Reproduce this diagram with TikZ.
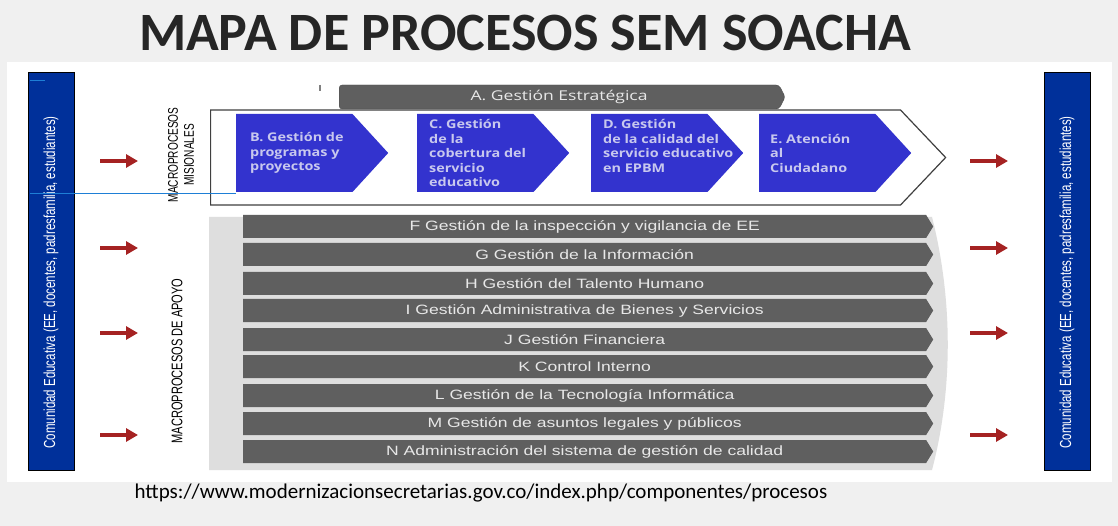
\documentclass[tikz,border=0pt]{standalone}
\usepackage{fontspec}
\setmainfont{Liberation Sans}
\newfontfamily\titlefont{Carlito}
\newfontfamily\boxfont[FakeStretch=1.3]{Open Sans}
\newfontfamily\procfont[FakeStretch=1.2]{Open Sans}
\newfontfamily\barfont[FakeStretch=1.3]{Liberation Sans}
\newfontfamily\narrowfont[FakeStretch=0.72]{Liberation Sans}
\usetikzlibrary{shapes.symbols,arrows.meta,positioning}

\definecolor{bgpage}{HTML}{F0F0F0}
\definecolor{titlegray}{HTML}{262626}
\definecolor{barblue}{HTML}{00309A}
\definecolor{procblue}{HTML}{3333CE}
\definecolor{proctext}{HTML}{C8C8EE}
\definecolor{bargray}{HTML}{5F5F5F}
\definecolor{bartext}{HTML}{E8E8E8}
\definecolor{panelgray}{HTML}{DEDEDE}
\definecolor{arrowred}{HTML}{A52222}
\definecolor{lineblue}{HTML}{1E7FD6}

\tikzset{
  comunidad/.style={draw=black, line width=1pt, fill=barblue, minimum width=46pt, minimum height=397pt, inner sep=0pt},
  sidetext/.style={rotate=90, text=white, font=\narrowfont\fontsize{16}{18}\selectfont},
  macrolabel/.style={rotate=90, align=center, font=\narrowfont\fontsize{14}{16}\selectfont},
  flecha/.style={arrowred, line width=4.5pt, -{Triangle[length=12pt,width=13pt]}},
  misional/.style={signal, signal to=east, signal pointer angle=95, fill=procblue,
    minimum height=78pt, minimum width=152pt, inner sep=0pt, anchor=west},
  proctxt/.style={text=proctext, align=left, inner sep=0pt, font=\procfont\bfseries\fontsize{12}{14.5}\selectfont},
  apoyo/.style={signal, signal to=east, signal pointer angle=117, fill=bargray, text=bartext,
    minimum height=23pt, minimum width=690pt, inner sep=0pt, anchor=west,
    font=\barfont\fontsize{13.5}{15}\selectfont},
}

\begin{document}
\begin{tikzpicture}[x=1pt,y=-1pt]

  % page and white panel
  \useasboundingbox (0,0) rectangle (1118,526);
  \fill[bgpage] (0,0) rectangle (1118,526);
  \fill[white] (7,62) rectangle (1112,482);

  \node[text=titlegray, font=\titlefont\bfseries\fontsize{54}{60}\selectfont] (titulo) at (525,33) {MAPA DE PROCESOS SEM SOACHA};
  \node[font=\titlefont\fontsize{21}{24}\selectfont] (fuente) at (481,493) {https://www.modernizacionsecretarias.gov.co/index.php/componentes/procesos};

  % comunidad educativa, both sides
  \node[comunidad] (entrada) at (51,271.5) {};
  \node[sidetext] at (51,282.5) {Comunidad Educativa (EE, docentes, padresfamilia, estudiantes)};
  \node[comunidad] (salida) at (1067,271.5) {};
  \node[sidetext] at (1067,282.5) {Comunidad Educativa (EE, docentes, padresfamilia, estudiantes)};
  \coordinate (marcaA) at (30,81);
  \coordinate (marcaB) at (45,81);
  \draw[lineblue, line width=1pt] (marcaA) -- (marcaB);

  % arrows in and out
  \foreach \yy [count=\i] in {161,248,333,435} {
    \coordinate (inL\i) at (100,\yy);
    \coordinate (inR\i) at (138,\yy);
    \coordinate (outL\i) at (970,\yy);
    \coordinate (outR\i) at (1008,\yy);
    \draw[flecha] (inL\i) -- (inR\i);
    \draw[flecha] (outL\i) -- (outR\i);
  }

  \node[macrolabel] (lblmisional) at (181,155) {MACROPROCESOS\\MISIONALES};
  \node[macrolabel, font=\narrowfont\fontsize{15.4}{17}\selectfont] (lblapoyo) at (177,361) {MACROPROCESOS DE APOYO};

  % estrategico
  \coordinate (tickA) at (320,85);
  \coordinate (tickB) at (320,91);
  \draw[gray, line width=1.5pt] (tickA) -- (tickB);
  \node[signal, signal to=east, signal pointer angle=125, rounded corners=3pt, fill=bargray, draw=black!70,
    minimum height=24pt, minimum width=446pt, inner sep=0pt, anchor=west, text=bartext,
    font=\boxfont\fontsize{13.5}{16}\selectfont] (A) at (339,97) {A. Gestión Estratégica};

  % misionales
  \node[signal, signal to=east, signal pointer angle=93, draw=black!75, line width=1.2pt, fill=white,
    minimum height=95pt, minimum width=735pt, anchor=west] (misionales) at (210,157.5) {};
  \node[misional] (B) at (236,153) {};
  \node[misional] (C) at (417,153) {};
  \node[misional] (D) at (591,153) {};
  \node[misional] (E) at (759,153) {};
  \node[proctxt, right=14pt of B.west] (Btxt) {B. Gestión de\\programas y\\proyectos};
  \node[proctxt, right=12pt of C.west] (Ctxt) {C. Gestión\\de la\\cobertura del\\servicio\\educativo};
  \node[proctxt, right=12pt of D.west, yshift=7pt] (Dtxt) {D. Gestión\\de la calidad del\\servicio educativo\\en EPBM};
  \node[proctxt, right=11pt of E.west] (Etxt) {E. Atención\\al\\Ciudadano};
  \coordinate (guiaA) at (30,194);
  \coordinate (guiaB) at (236,194);
  \draw[lineblue, line width=1pt] (guiaA) -- (guiaB);

  % apoyo
  \fill[panelgray] (209,217) -- (932,217) .. controls (953,300) and (953,390) .. (932,470) -- (209,470) -- cycle;
  \foreach \name/\yy/\txt in {F/226.5/{F Gestión de la inspección y vigilancia de EE},
      G/254.5/{G Gestión de la Información},
      H/283.5/{H Gestión del Talento Humano},
      I/310.5/{I Gestión Administrativa de Bienes y Servicios},
      J/339.5/{J Gestión Financiera},
      K/366.5/{K Control Interno},
      L/395.5/{L Gestión de la Tecnología Informática},
      M/423.5/{M Gestión de asuntos legales y públicos},
      N/451.5/{N Administración del sistema de gestión de calidad}} {
    \node[apoyo] (\name) at (243,\yy) {\txt};
  }

\end{tikzpicture}
\end{document}
